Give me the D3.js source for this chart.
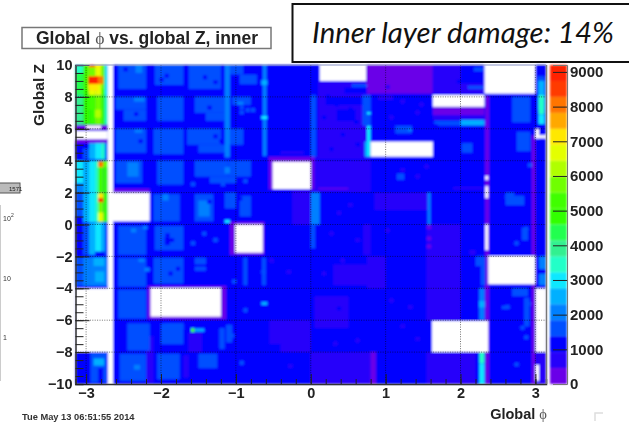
<!DOCTYPE html>
<html>
<head>
<meta charset="utf-8">
<script src="https://d3js.org/d3.v7.min.js"></script>
<style>
  body { margin: 0; background: #fff; }
  svg { display: block; }
  text { font-family: "Liberation Sans", Arial, sans-serif; }
</style>
</head>
<body>
<div class="chart"></div>
<script>
// contour colours, bottom of the colour bar to the top
var paletteColors = ["#6a04e8", "#2600fa", "#0000ff", "#0050ff", "#0080ff", "#00b0ff", "#10e8ff", "#20ffc8",
  "#30f090", "#20ff50", "#30ff00", "#40ff00", "#70ff00", "#b0ff00", "#e4ff00", "#ffe800",
  "#ffa800", "#ff7400", "#ff3a00", "#ff2000"];
var zTicks = [-10, -8, -6, -4, -2, 0, 2, 4, 6, 8, 10];
var phiTicks = [-3, -2, -1, 0, 1, 2, 3];
var barTicks = [0, 1000, 2000, 3000, 4000, 5000, 6000, 7000, 8000, 9000];

// everything below is [phi0, phi1, z0, z1, counts]
var basePatch = [[-3.14, 3.14, -10, 10, 1150]];

var stripPatches = [
  // z 8 to 10
  [-3.14, -3.04, 8.1, 10, 4200], [-3.04, -2.97, 8.1, 10, 5200], [-2.97, -2.88, 8.1, 10, 6700],
  [-2.88, -2.8, 8.1, 10, 6700], [-2.8, -2.75, 8.1, 10, 5800], [-2.75, -2.71, 8.1, 10, 3000],
  [-2.97, -2.84, 8.8, 9.3, 8800], [-2.84, -2.77, 8.8, 9.3, 7900], [-2.96, -2.88, 9.85, 10, 8900],
  [-2.88, -2.8, 9.85, 10, 7000], [-2.97, -2.88, 9.3, 9.85, 5800], [-3.14, -3.04, 9.5, 10, 3400],
  [-2.97, -2.84, 8.4, 8.8, 7000], [-2.8, -2.75, 8.1, 8.5, 5400], [-3.04, -2.97, 8.1, 8.5, 4800],
  // z 6 to 8
  [-3.14, -3.04, 6.2, 8.1, 3900], [-3.04, -2.96, 6.2, 8.1, 4700], [-2.96, -2.88, 6.2, 8.1, 5000],
  [-2.88, -2.8, 6.2, 8.1, 5700], [-2.8, -2.75, 6.2, 8.1, 5000], [-2.75, -2.71, 6.2, 8.1, 3300],
  [-2.96, -2.88, 7.2, 8.1, 5400], [-2.88, -2.8, 6.7, 7.2, 6100], [-3.14, -2.71, 5.9, 6.25, 250],
  // z 4 to 6
  [-3.14, -2.71, 5.1, 5.4, 250], [-3.14, -3.04, 4.1, 5.1, 1050], [-3.04, -2.96, 4.1, 5.1, 1400],
  [-2.96, -2.88, 4.1, 5.1, 2400], [-2.88, -2.8, 4.1, 5.1, 3000], [-2.8, -2.75, 4.1, 5.1, 3300],
  [-2.75, -2.71, 4.1, 5.1, 2200], [-3.14, -2.96, 4.75, 5.1, 1000],
  // z 2 to 4
  [-3.14, -3.04, 2, 4, 2900], [-3.04, -2.96, 2, 4, 2600], [-2.96, -2.88, 2, 4, 3000],
  [-2.88, -2.84, 2, 4, 3600], [-2.84, -2.77, 2, 4, 5200], [-2.77, -2.71, 2, 4, 4600],
  [-2.84, -2.77, 3.6, 3.95, 7900], [-2.77, -2.71, 3.6, 4, 5600], [-3.14, -3.04, 2, 2.6, 2100],
  // z 0 to 2
  [-3.14, -3.04, 0.15, 2, 1800], [-3.04, -2.96, 0.15, 2, 2500], [-2.96, -2.88, 0.15, 2, 2900],
  [-2.88, -2.84, 0.15, 2, 3500], [-2.84, -2.77, 0.15, 2, 5600], [-2.77, -2.71, 0.15, 2, 4800],
  [-2.84, -2.77, 1.4, 1.65, 8800], [-2.84, -2.77, 1.65, 1.95, 7200], [-2.84, -2.77, 0.2, 0.75, 6600],
  [-3.14, -3.04, 0, 0.5, 1150],
  // z -2 to 0
  [-3.14, -3.04, -1.9, 0.1, 1150], [-3.04, -2.96, -1.9, 0.1, 1700], [-2.96, -2.88, -1.9, 0.1, 2500],
  [-2.88, -2.8, -1.7, 0.1, 2800], [-2.8, -2.75, -1.7, 0.1, 2600], [-2.75, -2.71, -1.9, 0.1, 1800],
  // z -4 to -2
  [-3.14, -3.04, -3.85, -2.05, 1700], [-3.04, -2.96, -3.85, -2.05, 2100], [-2.96, -2.71, -3.85, -2.05, 2200],
  [-2.88, -2.76, -3.6, -2.95, 2700], [-2.9, -2.76, -2.6, -2.1, 2500],
  // z -10 to -8
  [-3.0, -2.94, -10, -8, 1200], [-2.94, -2.72, -9.9, -8, 1700], [-2.9, -2.76, -8.85, -8.4, 2500],
  [-2.84, -2.77, -10, -9, 1200]
];

var modulePatches = [
  [-2.57, -2.2, 8.5, 10, 1600], [-2.08, -1.7, 8.75, 10, 1600], [-1.63, -1.2, 8.5, 10, 1600],
  [-1.08, -0.9, 9.4, 10, 1600], [-2.34, -2.25, 9.5, 10, 2100], [-0.95, -0.72, 8.8, 9.4, 1500],
  [-2.6, -2.2, 7.2, 8, 1600], [-2.5, -2.2, 6.5, 7.2, 1600], [-2.05, -1.7, 6.5, 8, 1600],
  [-1.55, -1.15, 7, 8, 1600], [-1.4, -1.15, 6.5, 7, 1600], [-1.05, -0.8, 7.5, 8, 1600],
  [-2.36, -2.22, 7.7, 7.95, 2100], [-0.98, -0.9, 7.5, 7.7, 2100],
  [-2.6, -2.2, 4.5, 6, 1600], [-2.1, -1.7, 4.4, 6, 1600], [-1.65, -1.2, 5, 6, 1600],
  [-1.5, -1.1, 4.5, 5, 1600], [-1.1, -0.9, 5, 6, 1600], [-2.35, -2.25, 5.75, 5.95, 2100],
  [-2.6, -2.25, 2.6, 4, 1600], [-2.45, -2.3, 3, 3.9, 2100], [-2.05, -1.7, 2.5, 4, 1600],
  [-1.55, -1.1, 3, 4, 1600], [-1.35, -1.0, 2.6, 3, 1600], [-1.1, -0.8, 3, 4, 1600],
  [-1.15, -1.08, 3.2, 3.6, 2100],
  [-2.1, -1.75, 0.2, 1.9, 1600], [-1.98, -1.9, 1.5, 1.9, 2100], [-1.55, -1.3, 0.2, 1.9, 1600],
  [-1.5, -1.35, 0.5, 1.5, 2100], [-1.15, -1, 1, 2, 1600], [-0.95, -0.8, 0.5, 1.8, 1600],
  [-1.15, -1.08, 0.1, 0.3, 3000],
  [-2.57, -2.2, -1.9, -0.1, 1600], [-2.08, -1.7, -1.6, -0.1, 1600], [-1.55, -1.45, -0.9, -0.4, 1200],
  [-2.4, -2.33, -0.5, -0.25, 2100], [-2.24, -2.18, -0.3, -0.1, 2100], [-1.95, -1.88, -1.3, -0.8, 1150],
  [-2.57, -2.2, -3.9, -2.1, 1600], [-2.1, -1.7, -3.7, -2.1, 1600], [-1.55, -1.4, -2.5, -2.1, 1600],
  [-0.9, -0.85, -3.8, -2.1, 1600], [-0.65, -0.6, -3.8, -2.1, 1600], [-2.3, -2.22, -2.35, -2.15, 2100],
  [-2.22, -2.15, -2.95, -2.7, 2100], [-1.55, -1.4, -2.9, -2.65, 1600],
  [-2.57, -2.2, -5.9, -4.1, 1600], [-2.45, -2.15, -7.9, -6.2, 1600], [-2.0, -1.7, -7.5, -6.2, 1600],
  [-1.95, -1.7, -6.6, -6.2, 1700], [-1.13, -1.05, -7.4, -6.3, 1400], [-1.22, -1.15, -7.8, -6.5, 1500],
  [-1.6, -1.55, -6.75, -6.5, 5200], [-1.55, -1.42, -6.72, -6.52, 2500], [-0.66, -0.58, -5.05, -4.85, 2700],
  [-2.55, -2.2, -9.8, -8.1, 1600], [-2.05, -1.75, -9.7, -8.1, 1600], [-1.5, -1.25, -9, -8.1, 1700],
  [-2.36, -2.28, -9.1, -8.8, 2100],
  // long lighter staves
  [-1.15, -1.08, 4.2, 10, 2100], [-0.64, -0.59, 4.3, 10, 2100], [-0.66, -0.58, 6.6, 6.8, 3100],
  [-0.66, -0.58, 8.75, 9.05, 2500]
];

// single bins, [phi, z, counts]
var cellPhi = 0.056;
var cellZ = 0.25;
var singleBins = [
  [-1.95, 9.2, 1150], [-2.02, 8.95, 1150], [-1.44, 9.1, 1150], [-1.3, 8.8, 1150], [-2.5, 9.6, 1150],
  [-1.88, -1.1, 1150], [-1.94, -0.8, 1150], [-1.8, -2.9, 1150], [-1.9, -3.2, 1150], [-1.6, -1.3, 1600],
  [-0.95, 7.2, 1600], [-0.87, 7.05, 1600], [-0.8, 7.05, 1600], [-0.95, 6.9, 1600], [-1.38, 7.2, 1150],
  [-2.36, 6.8, 1150], [-2.3, 5.1, 1150], [-1.95, 5.3, 1750], [-1.3, 5.4, 1150], [-1.22, 5.1, 1150],
  [-1.6, 2.4, 1600], [-1.2, 2.4, 1600], [-0.97, 1.5, 1150], [-1.38, 1.3, 1150], [-0.9, 2.6, 1600],
  [-1.45, -0.7, 1600], [-1.3, -1.1, 1600], [-1.05, -3.7, 1600], [-0.55, -2.4, 700], [-0.32, -3.1, 700],
  [-1.08, -7.1, 1500], [-0.9, -5.5, 1600], [-0.66, -3.1, 1600], [-0.3, -9, 700], [-0.95, -8.8, 1600],
  [0.2, 7.9, 1150], [0.32, 7.4, 1150], [0.5, 7.1, 1150], [0.58, 6.3, 1150], [0.15, 6.6, 1150],
  [0.4, 5.5, 1150], [0.6, 4.9, 1150], [0.25, 4.6, 1150],
  [1.0, 8.5, 700], [1.2, 7.6, 700], [1.45, 7.4, 700], [1.05, 6.6, 700], [1.4, 6.9, 700],
  [1.52, 3.5, 700], [1.4, 2.9, 700], [1.2, 3.3, 700], [0.95, 1.4, 700], [0.5, 1.1, 700], [0.35, 0.6, 700],
  [0.25, -0.7, 700], [0.6, -1.1, 700], [1.0, -0.5, 700], [0.4, -2.4, 700], [0.15, -3.2, 700], [0.55, -3.3, 700],
  [1.55, -0.3, 250], [1.55, -1, 250], [1.55, -1.5, 250], [0.35, -5.4, 1150], [0.75, -6.8, 1150], [1.2, -6.5, 700],
  [1.05, -4.9, 700], [1.3, -5.3, 700], [1.4, -7.3, 700], [0.6, -7.4, 700], [0.3, -7.6, 700],
  [2.72, -1.3, 1600], [2.85, -0.4, 1600], [2.65, 0.6, 1150], [2.88, -5.1, 1600], [2.8, -6.6, 1600],
  [2.85, -7.2, 1600], [2.6, -5.3, 1600], [2.72, -8.9, 1600], [2.9, 3.6, 1600]
];

var rightPatches = [
  [0.1, 0.8, 4.2, 9, 700], [0.0, 0.8, 2.05, 4, 650], [0.74, 1.63, 8.2, 10, 250],
  [1.63, 2.32, 8.2, 10, 750], [1.63, 2.32, 6.85, 7.4, 300], [1.63, 2.32, 6.55, 6.85, 700],
  [1.55, 2.0, -6, 0, 780], [1.55, 2.2, -10, -8, 750], [0.0, 0.85, -10, -8, 800], [0.75, 1.0, -4, -2, 750],
  [-0.25, 0.0, 0, 2.2, 700], [-0.55, 0.0, -7.5, -6, 780], [-0.4, 0.0, -8, -7.5, 780], [0.05, 0.5, -6.5, -4.5, 800],
  [0.85, 1.6, 0.9, 2, 760], [0.7, 0.8, -1.9, 0, 750], [0.3, 0.85, -3.8, -2.5, 850], [0.1, 0.5, 2.2, 2.3, 250],
  [-0.4, -0.1, 4.4, 4.6, 700], [-2.2, -2.1, -9.9, -7, 700], [-1.7, -1.63, -9.6, -8.2, 700], [-1.63, -1.45, -8, -6.8, 800],
  // blue streaks and lighter staves on the right half
  [1.95, 2.32, 8.85, 9.1, 1150], [2.0, 2.32, 9.1, 10, 1150], [2.1, 2.32, 8.5, 8.7, 1500], [2.18, 2.32, 9.6, 9.85, 1600],
  [0.55, 0.75, 8.6, 8.8, 1600], [0.45, 0.75, 8.2, 8.6, 1150], [0.2, 0.7, 7.5, 8, 1100], [0.35, 0.6, 6.5, 7.2, 1100],
  [0.8, 1.63, 5.2, 8.1, 1150], [1.13, 1.35, 5.7, 6.2, 1700], [1.3, 1.35, 5.85, 6, 2100], [0.9, 1.1, 7.8, 8.1, 700],
  [1.63, 2.32, 2.0, 6.1, 1150], [1.7, 2.0, 6.2, 6.5, 1700], [2.0, 2.32, 6.2, 6.55, 2500], [1.65, 1.75, 6.3, 6.5, 1500],
  [2.02, 2.16, 4.5, 5.1, 1600], [1.9, 2.3, 2.2, 2.35, 760],
  [0.8, 1.6, 2, 4, 1150], [1.15, 1.25, 2.8, 3.2, 1600], [0.69, 0.8, 6.2, 8.1, 1800], [0.75, 0.8, 6.9, 7.05, 2800],
  [0.75, 0.8, 4.2, 6.2, 3100], [0.72, 0.75, 4.2, 5.2, 2500], [0.0, 0.07, 4.2, 8.1, 1800], [0.0, 0.12, 0, 2, 2200],
  [1.56, 1.6, 0, 2, 2100], [0.0, 0.06, -1.5, 0, 1700], [0.8, 0.87, -10, -8, 300], [0.05, 0.8, 4.1, 4.25, 700],
  // beside the gaps on the right
  [2.33, 2.38, -10, 8.1, 300], [2.95, 3.0, -10, 5.6, 300], [2.69, 2.93, 6.4, 8, 1700], [2.75, 2.93, 4.6, 5.8, 1600],
  [2.69, 2.9, -4.5, -4, 1700], [2.6, 2.85, 1.2, 1.8, 1500], [2.6, 2.72, 1.6, 2, 1700], [2.82, 2.9, -1, -0.2, 1500],
  [2.25, 2.32, -6, -4, 2100], [2.25, 2.32, -5.2, -4.8, 2500], [2.25, 2.32, -10, -8.7, 2800], [2.25, 2.32, -8.7, -8, 3500],
  [2.2, 2.33, -2.6, -2, 1800], [2.27, 2.33, -3.8, -2.6, 1800], [2.12, 2.2, -1.9, -1.6, 760],
  [3.02, 3.12, 8.2, 9.3, 1800], [3.04, 3.12, 7.2, 9, 2500], [3.04, 3.12, 6.9, 8.1, 3400], [3.04, 3.12, 6.3, 6.9, 2800],
  [3.0, 3.14, 9.3, 10, 1300], [3.05, 3.14, -3.8, -3.1, 2100], [3.05, 3.14, -2.8, -2, 2100], [3.02, 3.14, -10, -8, 700],
  [2.33, 2.38, 2.3, 2.8, 300], [2.55, 2.65, -5.3, -5.1, 1500], [2.85, 2.92, -6.4, -4.6, 1600]
];

// rings of low counts around the dead regions
var ringPatches = [
  [-0.56, 0.05, 2.2, 4.25, 250], [-2.64, -2.15, 2.0, 2.25, 250], [-1.08, -0.62, -1.9, 0.16, 250],
  [-2.18, -1.13, -5.95, -3.85, 250]
];

// [phi0, phi1, z0, z1] with nothing in them
var deadRegions = [
  [-2.71, -2.64, -10, 10], [-3.14, -2.71, 5.35, 5.86], [-3.0, -2.8, 6, 6.2], [-3.14, -2.64, -8, -4],
  [-2.65, -2.15, 0.2, 2], [-0.51, 0, 2.22, 3.94], [-1.01, -0.64, -1.77, 0], [-2.14, -1.2, -5.78, -3.98],
  [0.12, 0.74, 9, 10], [2.32, 3.0, 8.2, 10], [1.63, 2.32, 7.38, 8.12], [0.8, 1.63, 4.25, 5.2],
  [2.33, 2.37, -1.6, 0], [2.33, 2.37, 1.65, 2.4], [2.33, 2.37, 2.8, 3.05], [2.37, 3.0, -3.75, -1.97],
  [1.62, 2.37, -8, -6.05], [3.0, 3.14, -8, -4], [3.0, 3.05, -9.8, -8.8], [3.0, 3.05, 5.4, 6], [3.0, 3.14, 5.4, 5.6]
];

var svgWidth = 629;
var svgHeight = 422;
var plot = { left: 75.5, right: 546, top: 65, bottom: 384 };
var bar = { left: 550, right: 567 };
var inkDark = "#222";

var svg = d3.select(".chart").append("svg")
  .attr("width", svgWidth)
  .attr("height", svgHeight);

var defs = svg.append("defs");
defs.append("filter").attr("id", "soft").attr("x", "-5%").attr("y", "-5%").attr("width", "110%").attr("height", "110%")
  .append("feGaussianBlur").attr("stdDeviation", 0.95);
defs.append("filter").attr("id", "softText").attr("x", "-5%").attr("y", "-5%").attr("width", "110%").attr("height", "110%")
  .append("feGaussianBlur").attr("stdDeviation", 0.5);

var xScale = d3.scaleLinear().domain([-Math.PI, Math.PI]).range([plot.left, plot.right]);
var yScale = d3.scaleLinear().domain([-10, 10]).range([plot.bottom, plot.top]);
var barScale = d3.scaleLinear().domain([0, 9200]).range([plot.bottom, plot.top]);
var colorScale = d3.scaleQuantize().domain([0, 9200]).range(paletteColors);

function drawPatches(group, rows) {
  group.selectAll(null)
    .data(rows)
    .enter().append("rect")
    .attr("x", function(d) { return xScale(d[0]); })
    .attr("width", function(d) { return xScale(d[1]) - xScale(d[0]); })
    .attr("y", function(d) { return yScale(Math.max(d[2], d[3])); })
    .attr("height", function(d) { return Math.abs(yScale(d[2]) - yScale(d[3])); })
    .attr("fill", function(d) { return d.length > 4 ? colorScale(d[4]) : "#fff"; });
}

var heat = svg.append("g").attr("filter", "url(#soft)");
drawPatches(heat, basePatch);
drawPatches(heat, rightPatches);
drawPatches(heat, modulePatches);
drawPatches(heat, stripPatches);
drawPatches(heat, singleBins.map(function(d) {
  return [d[0], d[0] + cellPhi, d[1], d[1] + cellZ, d[2]];
}));
drawPatches(heat, ringPatches);
drawPatches(heat, deadRegions);

// colour bar
heat.selectAll(null)
  .data(d3.range(paletteColors.length))
  .enter().append("rect")
  .attr("x", bar.left)
  .attr("width", bar.right - bar.left)
  .attr("y", function(d) { return barScale((d + 1) * 460); })
  .attr("height", barScale(0) - barScale(460))
  .attr("fill", function(d) { return paletteColors[d]; });

// dotted grid, a little softer than the axes
var gridGroup = svg.append("g").attr("filter", "url(#softText)");
var grid = gridGroup.append("g").attr("fill", "none").attr("stroke", "#000").attr("stroke-opacity", 0.55).attr("stroke-dasharray", "1,1.4");
grid.selectAll(null).data(phiTicks).enter().append("line")
  .attr("x1", function(d) { return xScale(d); }).attr("x2", function(d) { return xScale(d); })
  .attr("y1", plot.top).attr("y2", plot.bottom);
grid.selectAll(null).data(zTicks.slice(1, -1)).enter().append("line")
  .attr("y1", function(d) { return yScale(d); }).attr("y2", function(d) { return yScale(d); })
  .attr("x1", plot.left).attr("x2", plot.right);

// axes
function styleAxis(axisGroup, size, weight) {
  axisGroup.selectAll("text")
    .attr("font-size", size)
    .attr("font-weight", weight)
    .attr("fill", "#222");
}

var axes = svg.append("g").attr("filter", "url(#softText)");

axes.append("g").attr("transform", "translate(0," + plot.bottom + ")")
  .call(d3.axisBottom(xScale).tickValues(d3.range(-30, 31, 2).map(function(d) { return d / 10; })).tickSize(-5).tickFormat(""))
  .call(function(g) { g.selectAll("line").attr("stroke", inkDark); g.select(".domain").attr("stroke", "#333").attr("stroke-width", 1.5); });
axes.append("g").attr("transform", "translate(0," + plot.bottom + ")")
  .call(d3.axisBottom(xScale).tickValues(phiTicks).tickSize(-10).tickFormat(d3.format("d")))
  .call(function(g) { g.selectAll("line").attr("stroke", inkDark); g.select(".domain").remove(); g.selectAll("text").attr("y", 4); })
  .call(styleAxis, 14.5, "bold");

axes.append("g").attr("transform", "translate(" + plot.left + ",0)")
  .call(d3.axisLeft(yScale).tickValues(d3.range(-100, 101, 5).map(function(d) { return d / 10; })).tickSize(-8).tickFormat(""))
  .call(function(g) { g.selectAll("line").attr("stroke", inkDark); g.select(".domain").attr("stroke", "#333").attr("stroke-width", 1.5); });
axes.append("g").attr("transform", "translate(" + plot.left + ",0)")
  .call(d3.axisLeft(yScale).tickValues(zTicks).tickSize(-14).tickPadding(3).tickFormat(d3.format("d")))
  .call(function(g) { g.selectAll("line").attr("stroke", inkDark); g.select(".domain").remove(); })
  .call(styleAxis, 14.5, "bold");

// frame top and right edges
axes.append("line").attr("x1", plot.left).attr("x2", plot.right).attr("y1", plot.top).attr("y2", plot.top).attr("stroke", "#8a94c8");
axes.append("line").attr("x1", plot.right + 0.5).attr("x2", plot.right + 0.5).attr("y1", plot.top).attr("y2", plot.bottom).attr("stroke", "#777").attr("stroke-width", 1.5);

axes.append("g").attr("transform", "translate(" + bar.right + ",0)")
  .call(d3.axisRight(barScale).tickValues(barTicks).tickSize(-14).tickPadding(3).tickFormat(d3.format("d")))
  .call(function(g) {
    g.selectAll("line").attr("stroke", "#222");
    g.select(".domain").attr("stroke", "#777");
    g.selectAll("line").filter(function(d) { return d === 0; }).remove();
  })
  .call(styleAxis, 15, "bold");

// titles and labels
var labels = svg.append("g").attr("filter", "url(#softText)");
labels.append("rect").attr("x", 22).attr("y", 27.5).attr("width", 249).attr("height", 21)
  .attr("fill", "#fff").attr("stroke", "#777").attr("stroke-width", 1.5);
var title = labels.append("text").attr("x", 147).attr("y", 43.5).attr("text-anchor", "middle")
  .attr("font-size", 17.5).attr("font-weight", "bold").attr("fill", "#222");
title.append("tspan").text("Global ");
title.append("tspan").text("ϕ").attr("font-weight", "normal").attr("fill", "#555").style("font-family", "'Liberation Serif'");
title.append("tspan").text(" vs. global Z, inner");

labels.append("text").attr("transform", "translate(44,95) rotate(-90)").attr("text-anchor", "middle")
  .attr("font-size", 15.5).attr("font-weight", "bold").attr("fill", "#222").text("Global Z");

var phiLabel = labels.append("text").attr("x", 547).attr("y", 419).attr("text-anchor", "end")
  .attr("font-size", 14.5).attr("font-weight", "bold").attr("fill", "#222");
phiLabel.append("tspan").text("Global ");
phiLabel.append("tspan").text("ϕ").attr("font-weight", "normal").attr("fill", "#555").style("font-family", "'Liberation Serif'");

labels.append("text").attr("x", 22).attr("y", 420).attr("font-size", 9.3).attr("font-weight", "bold")
  .attr("fill", "#333").text("Tue May 13 06:51:55 2014");

// annotation box pasted over the top right
svg.append("rect").attr("x", 292.5).attr("y", 4).attr("width", 345).attr("height", 58)
  .attr("fill", "#fff").attr("stroke", "#111").attr("stroke-width", 2);
svg.append("text").attr("x", 312).attr("y", 43).attr("font-size", 29.4).attr("font-style", "italic")
  .style("font-family", "Lato").attr("fill", "#111").text("Inner layer damage: 14%");

// what is left of the neighbouring plot at the left edge
var leftBits = svg.append("g").attr("filter", "url(#softText)");
leftBits.append("rect").attr("x", -2).attr("y", 183).attr("width", 22).attr("height", 10).attr("fill", "#bbb").attr("stroke", "#555");
leftBits.append("text").attr("x", 9).attr("y", 190.5).attr("font-size", 6).attr("fill", "#222").text("1571");
leftBits.selectAll(null).data([["10", 221], ["10", 281], ["1", 340]]).enter().append("text")
  .attr("x", 3).attr("y", function(d) { return d[1]; }).attr("font-size", 7).attr("fill", "#333").text(function(d) { return d[0]; });
leftBits.append("text").attr("x", 11).attr("y", 217).attr("font-size", 5).attr("fill", "#333").text("2");
leftBits.append("line").attr("x1", 0.5).attr("x2", 0.5).attr("y1", 205).attr("y2", 381).attr("stroke", "#ccc");

// faint corner mark bottom right
svg.append("path").attr("d", "M595 421V413H603").attr("fill", "none").attr("stroke", "#ddd").attr("stroke-width", 1.5);
</script>
</body>
</html>
